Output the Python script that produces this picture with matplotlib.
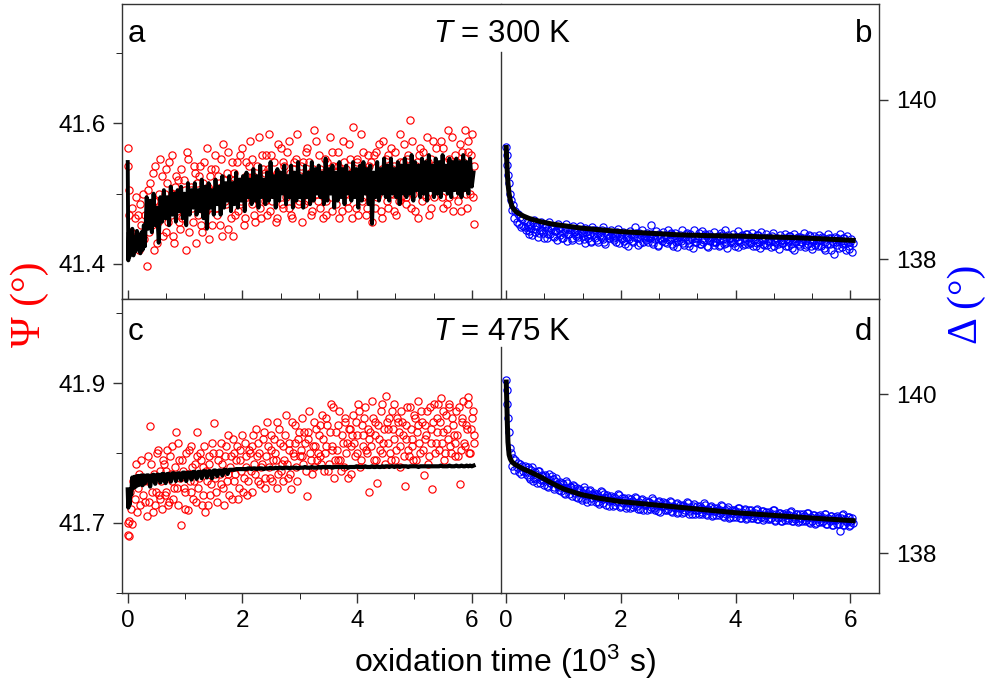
import matplotlib
matplotlib.use('Agg')
import matplotlib.pyplot as plt
from matplotlib.ticker import FixedLocator, MultipleLocator, FormatStrFormatter

plt.rcParams['font.family'] = ['Liberation Sans', 'DejaVu Sans']
plt.rcParams['mathtext.fontset'] = 'custom'
plt.rcParams['mathtext.rm'] = 'Liberation Sans'
plt.rcParams['mathtext.it'] = 'Liberation Sans:italic'

# ===== data (time in 10^3 s) =====

# measurement times, shared by psi and delta
t_meas = [
    0.00, 0.01, 0.02, 0.03, 0.04, 0.06, 0.08, 0.10, 0.12, 0.14, 0.16, 0.18, 0.20, 0.22, 0.24, 0.26, 0.28, 0.30,
    0.33, 0.36, 0.39, 0.42, 0.45, 0.48, 0.51, 0.54, 0.57, 0.60,
    0.63, 0.66, 0.69, 0.72, 0.75, 0.78, 0.81, 0.84, 0.87, 0.90,
    0.93, 0.96, 0.99, 1.02, 1.05, 1.08, 1.11, 1.14, 1.17, 1.20,
    1.23, 1.26, 1.29, 1.32, 1.35, 1.38, 1.41, 1.44, 1.47, 1.50,
    1.53, 1.56, 1.59, 1.62, 1.65, 1.68, 1.71, 1.74, 1.77, 1.80,
    1.83, 1.86, 1.89, 1.92, 1.95, 1.98, 2.01, 2.04, 2.07, 2.10,
    2.13, 2.16, 2.19, 2.22, 2.25, 2.28, 2.31, 2.34, 2.37, 2.40,
    2.43, 2.46, 2.49, 2.52, 2.55, 2.58, 2.61, 2.64, 2.67, 2.70,
    2.73, 2.76, 2.79, 2.82, 2.85, 2.88, 2.91, 2.94, 2.97, 3.00,
    3.03, 3.06, 3.09, 3.12, 3.15, 3.18, 3.21, 3.24, 3.27, 3.30,
    3.33, 3.36, 3.39, 3.42, 3.45, 3.48, 3.51, 3.54, 3.57, 3.60,
    3.63, 3.66, 3.69, 3.72, 3.75, 3.78, 3.81, 3.84, 3.87, 3.90,
    3.93, 3.96, 3.99, 4.02, 4.05, 4.08, 4.11, 4.14, 4.17, 4.20,
    4.23, 4.26, 4.29, 4.32, 4.35, 4.38, 4.41, 4.44, 4.47, 4.50,
    4.53, 4.56, 4.59, 4.62, 4.65, 4.68, 4.71, 4.74, 4.77, 4.80,
    4.83, 4.86, 4.89, 4.92, 4.95, 4.98, 5.01, 5.04, 5.07, 5.10,
    5.13, 5.16, 5.19, 5.22, 5.25, 5.28, 5.31, 5.34, 5.37, 5.40,
    5.43, 5.46, 5.49, 5.52, 5.55, 5.58, 5.61, 5.64, 5.67, 5.70,
    5.73, 5.76, 5.79, 5.82, 5.85, 5.88, 5.91, 5.94, 5.97, 6.00,
    6.03]

# interleaved second scan of the same runs
t_meas2 = [
    0.345, 0.375, 0.405, 0.435, 0.465, 0.495, 0.525, 0.555, 0.585, 0.615,
    0.645, 0.675, 0.705, 0.735, 0.765, 0.795, 0.825, 0.855, 0.885, 0.915,
    0.945, 0.975, 1.005, 1.035, 1.065, 1.095, 1.125, 1.155, 1.185, 1.215,
    1.245, 1.275, 1.305, 1.335, 1.365, 1.395, 1.425, 1.455, 1.485, 1.515,
    1.545, 1.575, 1.605, 1.635, 1.665, 1.695, 1.725, 1.755, 1.785, 1.815,
    1.845, 1.875, 1.905, 1.935, 1.965, 1.995, 2.025, 2.055, 2.085, 2.115,
    2.145, 2.175, 2.205, 2.235, 2.265, 2.295, 2.325, 2.355, 2.385, 2.415,
    2.445, 2.475, 2.505, 2.535, 2.565, 2.595, 2.625, 2.655, 2.685, 2.715,
    2.745, 2.775, 2.805, 2.835, 2.865, 2.895, 2.925, 2.955, 2.985, 3.015,
    3.045, 3.075, 3.105, 3.135, 3.165, 3.195, 3.225, 3.255, 3.285, 3.315,
    3.345, 3.375, 3.405, 3.435, 3.465, 3.495, 3.525, 3.555, 3.585, 3.615,
    3.645, 3.675, 3.705, 3.735, 3.765, 3.795, 3.825, 3.855, 3.885, 3.915,
    3.945, 3.975, 4.005, 4.035, 4.065, 4.095, 4.125, 4.155, 4.185, 4.215,
    4.245, 4.275, 4.305, 4.335, 4.365, 4.395, 4.425, 4.455, 4.485, 4.515,
    4.545, 4.575, 4.605, 4.635, 4.665, 4.695, 4.725, 4.755, 4.785, 4.815,
    4.845, 4.875, 4.905, 4.935, 4.965, 4.995, 5.025, 5.055, 5.085, 5.115,
    5.145, 5.175, 5.205, 5.235, 5.265, 5.295, 5.325, 5.355, 5.385, 5.415,
    5.445, 5.475, 5.505, 5.535, 5.565, 5.595, 5.625, 5.655, 5.685, 5.715,
    5.745, 5.775, 5.805, 5.835, 5.865, 5.895, 5.925, 5.955, 5.985, 6.015,
    6.045]

# T = 300 K, Psi (deg)
psi_300 = [
    41.565, 41.540, 41.505, 41.470, 41.425, 41.445, 41.480, 41.430, 41.465, 41.495, 41.440, 41.470, 41.420, 41.485, 41.455, 41.500, 41.435, 41.470,
    41.397, 41.470, 41.515, 41.455, 41.490, 41.540, 41.430, 41.500, 41.465, 41.525,
    41.480, 41.445, 41.515, 41.545, 41.470, 41.500, 41.430, 41.525, 41.490, 41.460,
    41.535, 41.475, 41.505, 41.420, 41.550, 41.485, 41.510, 41.460, 41.530, 41.495,
    41.470, 41.540, 41.445, 41.515, 41.490, 41.565, 41.480, 41.525, 41.455, 41.505,
    41.535, 41.470, 41.500, 41.550, 41.440, 41.520, 41.485, 41.560, 41.495, 41.465,
    41.440, 41.530, 41.505, 41.475, 41.555, 41.490, 41.520, 41.465, 41.545, 41.500,
    41.575, 41.485, 41.525, 41.460, 41.540, 41.510, 41.480, 41.555, 41.500, 41.530,
    41.470, 41.585, 41.515, 41.490, 41.545, 41.460, 41.530, 41.505, 41.565, 41.480,
    41.540, 41.495, 41.520, 41.575, 41.470, 41.535, 41.505, 41.550, 41.485, 41.525,
    41.460, 41.545, 41.510, 41.565, 41.490, 41.530, 41.475, 41.590, 41.515, 41.500,
    41.555, 41.480, 41.530, 41.505, 41.470, 41.545, 41.520, 41.495, 41.560, 41.510,
    41.485, 41.540, 41.465, 41.525, 41.575, 41.500, 41.535, 41.480, 41.550, 41.515,
    41.595, 41.505, 41.545, 41.470, 41.525, 41.490, 41.560, 41.515, 41.480, 41.540,
    41.510, 41.460, 41.555, 41.525, 41.495, 41.570, 41.475, 41.535, 41.505, 41.550,
    41.480, 41.530, 41.565, 41.500, 41.540, 41.470, 41.520, 41.585, 41.495, 41.545,
    41.515, 41.485, 41.555, 41.605, 41.530, 41.500, 41.475, 41.545, 41.520, 41.565,
    41.490, 41.540, 41.510, 41.580, 41.470, 41.550, 41.525, 41.495, 41.565, 41.530,
    41.505, 41.575, 41.480, 41.545, 41.520, 41.590, 41.495, 41.535, 41.475, 41.555,
    41.525, 41.490, 41.570, 41.510, 41.545, 41.590, 41.480, 41.560, 41.500, 41.585,
    41.457]

psi_300_2 = [
    41.505, 41.445, 41.475, 41.530, 41.420, 41.490, 41.460, 41.550, 41.480, 41.440,
    41.500, 41.535, 41.460, 41.485, 41.555, 41.440, 41.510, 41.475, 41.520, 41.450,
    41.465, 41.520, 41.490, 41.560, 41.445, 41.505, 41.480, 41.540, 41.430, 41.515,
    41.525, 41.455, 41.500, 41.545, 41.475, 41.510, 41.435, 41.535, 41.495, 41.555,
    41.480, 41.525, 41.455, 41.510, 41.570, 41.490, 41.530, 41.450, 41.515, 41.545,
    41.520, 41.470, 41.545, 41.500, 41.485, 41.565, 41.455, 41.525, 41.495, 41.540,
    41.495, 41.550, 41.470, 41.520, 41.505, 41.580, 41.465, 41.535, 41.490, 41.555,
    41.535, 41.475, 41.555, 41.500, 41.525, 41.465, 41.570, 41.510, 41.485, 41.545,
    41.505, 41.560, 41.480, 41.530, 41.465, 41.545, 41.515, 41.585, 41.490, 41.540,
    41.520, 41.485, 41.560, 41.500, 41.545, 41.470, 41.535, 41.510, 41.575, 41.490,
    41.535, 41.505, 41.465, 41.550, 41.490, 41.525, 41.580, 41.475, 41.540, 41.515,
    41.500, 41.560, 41.525, 41.475, 41.545, 41.510, 41.490, 41.570, 41.530, 41.465,
    41.525, 41.480, 41.550, 41.510, 41.585, 41.495, 41.535, 41.470, 41.555, 41.505,
    41.545, 41.515, 41.480, 41.560, 41.500, 41.530, 41.465, 41.575, 41.520, 41.490,
    41.555, 41.500, 41.535, 41.475, 41.560, 41.515, 41.490, 41.545, 41.525, 41.570,
    41.495, 41.550, 41.525, 41.480, 41.575, 41.510, 41.540, 41.465, 41.555, 41.505,
    41.560, 41.515, 41.495, 41.545, 41.530, 41.480, 41.575, 41.505, 41.540, 41.520,
    41.530, 41.495, 41.565, 41.510, 41.485, 41.550, 41.525, 41.580, 41.500, 41.540,
    41.545, 41.510, 41.475, 41.560, 41.530, 41.500, 41.575, 41.520, 41.555, 41.495,
    41.540]

psi_fit_300 = [
    41.545, 41.405, 41.445, 41.410, 41.440, 41.415, 41.450, 41.412, 41.438, 41.418, 41.447, 41.425, 41.440, 41.415, 41.445, 41.420, 41.455, 41.425,
    41.495, 41.450, 41.490, 41.445, 41.500, 41.455, 41.480, 41.430, 41.495, 41.460,
    41.505, 41.465, 41.495, 41.455, 41.510, 41.470, 41.500, 41.460, 41.505, 41.475,
    41.510, 41.465, 41.500, 41.455, 41.515, 41.470, 41.505, 41.480, 41.515, 41.470,
    41.505, 41.475, 41.520, 41.465, 41.510, 41.450, 41.515, 41.480, 41.505, 41.470,
    41.520, 41.485, 41.510, 41.470, 41.525, 41.480, 41.515, 41.490, 41.525, 41.475,
    41.515, 41.485, 41.530, 41.480, 41.520, 41.490, 41.525, 41.475, 41.530, 41.495,
    41.520, 41.485, 41.535, 41.490, 41.525, 41.480, 41.540, 41.495, 41.520, 41.485,
    41.530, 41.490, 41.545, 41.495, 41.525, 41.480, 41.535, 41.490, 41.530, 41.500,
    41.540, 41.485, 41.525, 41.495, 41.540, 41.480, 41.530, 41.490, 41.545, 41.495,
    41.525, 41.480, 41.540, 41.495, 41.530, 41.485, 41.545, 41.490, 41.535, 41.500,
    41.540, 41.495, 41.530, 41.485, 41.550, 41.490, 41.535, 41.500, 41.540, 41.480,
    41.530, 41.490, 41.545, 41.495, 41.535, 41.485, 41.540, 41.500, 41.530, 41.490,
    41.545, 41.495, 41.535, 41.480, 41.540, 41.490, 41.545, 41.500, 41.535, 41.485,
    41.540, 41.457, 41.530, 41.495, 41.545, 41.490, 41.535, 41.500, 41.550, 41.495,
    41.540, 41.490, 41.550, 41.500, 41.535, 41.495, 41.545, 41.485, 41.540, 41.500,
    41.550, 41.495, 41.540, 41.500, 41.555, 41.490, 41.545, 41.505, 41.540, 41.495,
    41.550, 41.500, 41.545, 41.490, 41.555, 41.505, 41.540, 41.495, 41.550, 41.500,
    41.545, 41.495, 41.555, 41.505, 41.540, 41.500, 41.550, 41.495, 41.545, 41.505,
    41.550, 41.500, 41.545, 41.495, 41.555, 41.505, 41.545, 41.500, 41.550, 41.510,
    41.530]

# T = 475 K, Psi (deg)
psi_475 = [
    41.683, 41.700, 41.682, 41.703, 41.745, 41.720, 41.698, 41.760, 41.735, 41.785, 41.715, 41.750, 41.770, 41.725, 41.790, 41.740, 41.760, 41.730,
    41.710, 41.795, 41.838, 41.745, 41.765, 41.725, 41.800, 41.740, 41.775, 41.720,
    41.785, 41.745, 41.805, 41.730, 41.770, 41.810, 41.750, 41.830, 41.725, 41.790,
    41.697, 41.775, 41.745, 41.800, 41.718, 41.760, 41.810, 41.735, 41.785, 41.830,
    41.750, 41.800, 41.725, 41.780, 41.715, 41.760, 41.795, 41.740, 41.815, 41.843,
    41.765, 41.730, 41.800, 41.755, 41.785, 41.725, 41.810, 41.770, 41.740, 41.795,
    41.820, 41.760, 41.790, 41.735, 41.805, 41.775, 41.745, 41.815, 41.780, 41.760,
    41.800, 41.745, 41.825, 41.770, 41.795, 41.815, 41.755, 41.785, 41.830, 41.765,
    41.845, 41.780, 41.805, 41.760, 41.820, 41.790, 41.750, 41.835, 41.775, 41.810,
    41.790, 41.855, 41.765, 41.815, 41.748, 41.800, 41.840, 41.780, 41.820, 41.795,
    41.850, 41.785, 41.815, 41.739, 41.830, 41.800, 41.770, 41.845, 41.810, 41.790,
    41.825, 41.795, 41.855, 41.775, 41.810, 41.840, 41.785, 41.870, 41.805, 41.765,
    41.830, 41.790, 41.860, 41.775, 41.815, 41.845, 41.800, 41.765, 41.835, 41.810,
    41.855, 41.795, 41.825, 41.870, 41.780, 41.840, 41.810, 41.865, 41.800, 41.745,
    41.830, 41.875, 41.790, 41.845, 41.757, 41.820, 41.860, 41.800, 41.835, 41.881,
    41.815, 41.850, 41.790, 41.835, 41.870, 41.805, 41.845, 41.780, 41.860, 41.825,
    41.753, 41.840, 41.805, 41.865, 41.820, 41.790, 41.850, 41.830, 41.875, 41.800,
    41.845, 41.768, 41.820, 41.860, 41.795, 41.835, 41.748, 41.870, 41.815, 41.850,
    41.805, 41.878, 41.830, 41.790, 41.855, 41.820, 41.865, 41.800, 41.840, 41.815,
    41.860, 41.795, 41.756, 41.845, 41.875, 41.810, 41.835, 41.880, 41.800, 41.850,
    41.825]

psi_475_2 = [
    41.760, 41.730, 41.785, 41.715, 41.770, 41.745, 41.805, 41.735, 41.760, 41.790,
    41.740, 41.775, 41.725, 41.795, 41.760, 41.735, 41.780, 41.750, 41.815, 41.765,
    41.790, 41.750, 41.720, 41.770, 41.805, 41.745, 41.780, 41.760, 41.730, 41.795,
    41.765, 41.790, 41.740, 41.810, 41.775, 41.725, 41.785, 41.755, 41.800, 41.770,
    41.745, 41.790, 41.770, 41.815, 41.750, 41.795, 41.760, 41.825, 41.780, 41.735,
    41.800, 41.770, 41.810, 41.750, 41.790, 41.825, 41.765, 41.795, 41.740, 41.805,
    41.775, 41.810, 41.785, 41.835, 41.760, 41.800, 41.780, 41.820, 41.750, 41.795,
    41.810, 41.765, 41.825, 41.790, 41.800, 41.845, 41.770, 41.815, 41.785, 41.760,
    41.825, 41.785, 41.805, 41.770, 41.845, 41.795, 41.815, 41.760, 41.830, 41.805,
    41.795, 41.830, 41.775, 41.820, 41.860, 41.790, 41.810, 41.780, 41.835, 41.800,
    41.840, 41.785, 41.820, 41.800, 41.850, 41.775, 41.830, 41.810, 41.865, 41.790,
    41.805, 41.840, 41.790, 41.825, 41.780, 41.850, 41.815, 41.835, 41.770, 41.825,
    41.815, 41.845, 41.800, 41.860, 41.790, 41.825, 41.850, 41.805, 41.835, 41.820,
    41.810, 41.850, 41.825, 41.790, 41.840, 41.805, 41.870, 41.815, 41.785, 41.845,
    41.835, 41.800, 41.860, 41.820, 41.790, 41.850, 41.830, 41.810, 41.845, 41.795,
    41.820, 41.865, 41.795, 41.835, 41.810, 41.855, 41.790, 41.840, 41.815, 41.860,
    41.805, 41.840, 41.825, 41.785, 41.865, 41.815, 41.845, 41.800, 41.830, 41.870,
    41.845, 41.815, 41.860, 41.800, 41.835, 41.870, 41.810, 41.850, 41.825, 41.795,
    41.825, 41.865, 41.805, 41.850, 41.815, 41.840, 41.870, 41.800, 41.835, 41.860,
    41.815]

psi_fit_475 = [
    41.748, 41.722, 41.742, 41.726, 41.745, 41.740, 41.765, 41.750, 41.766, 41.752, 41.767, 41.754, 41.767, 41.755, 41.768, 41.754, 41.768, 41.757,
    41.768, 41.768, 41.752, 41.768, 41.769, 41.756, 41.769, 41.769, 41.758, 41.770,
    41.770, 41.757, 41.770, 41.770, 41.759, 41.771, 41.771, 41.760, 41.771, 41.771,
    41.761, 41.772, 41.772, 41.760, 41.772, 41.772, 41.762, 41.773, 41.773, 41.763,
    41.773, 41.773, 41.764, 41.774, 41.774, 41.765, 41.774, 41.774, 41.764, 41.775,
    41.775, 41.767, 41.775, 41.775, 41.768, 41.776, 41.776, 41.770, 41.776, 41.776,
    41.776, 41.776, 41.777, 41.777, 41.777, 41.777, 41.777, 41.777, 41.777, 41.778,
    41.778, 41.777, 41.778, 41.778, 41.777, 41.778, 41.778, 41.778, 41.777, 41.778,
    41.778, 41.778, 41.779, 41.778, 41.778, 41.779, 41.778, 41.779, 41.779, 41.778,
    41.779, 41.779, 41.779, 41.778, 41.779, 41.779, 41.779, 41.779, 41.778, 41.779,
    41.779, 41.779, 41.780, 41.779, 41.779, 41.779, 41.780, 41.779, 41.779, 41.779,
    41.780, 41.779, 41.780, 41.780, 41.779, 41.780, 41.780, 41.780, 41.779, 41.780,
    41.780, 41.780, 41.780, 41.780, 41.780, 41.780, 41.780, 41.779, 41.780, 41.780,
    41.780, 41.780, 41.781, 41.780, 41.780, 41.780, 41.780, 41.781, 41.780, 41.780,
    41.780, 41.781, 41.780, 41.780, 41.781, 41.780, 41.780, 41.781, 41.780, 41.781,
    41.781, 41.780, 41.781, 41.781, 41.780, 41.781, 41.781, 41.780, 41.781, 41.781,
    41.781, 41.781, 41.780, 41.781, 41.781, 41.781, 41.781, 41.781, 41.780, 41.781,
    41.781, 41.781, 41.781, 41.781, 41.781, 41.781, 41.781, 41.781, 41.781, 41.781,
    41.781, 41.782, 41.781, 41.781, 41.781, 41.781, 41.782, 41.781, 41.781, 41.781,
    41.782, 41.781, 41.781, 41.782, 41.781, 41.781, 41.782, 41.781, 41.782, 41.781,
    41.782]

# T = 300 K, Delta (deg)
delta_300 = [
    139.41, 139.30, 139.18, 139.05, 138.95, 138.82, 138.74, 138.62, 138.68, 138.52, 138.60, 138.47, 138.56, 138.44, 138.53, 138.40, 138.50, 138.42,
    138.40, 138.47, 138.35, 138.44, 138.30, 138.49, 138.38, 138.42, 138.33, 138.46,
    138.36, 138.27, 138.43, 138.32, 138.47, 138.38, 138.29, 138.41, 138.35, 138.44,
    138.30, 138.40, 138.26, 138.36, 138.44, 138.32, 138.38, 138.24, 138.41, 138.34,
    138.37, 138.28, 138.42, 138.33, 138.25, 138.39, 138.30, 138.36, 138.22, 138.40,
    138.31, 138.37, 138.24, 138.34, 138.28, 138.40, 138.21, 138.35, 138.30, 138.26,
    138.36, 138.27, 138.32, 138.22, 138.38, 138.30, 138.25, 138.34, 138.19, 138.31,
    138.28, 138.35, 138.23, 138.31, 138.40, 138.26, 138.33, 138.20, 138.36, 138.29,
    138.24, 138.33, 138.28, 138.43, 138.21, 138.30, 138.35, 138.18, 138.32, 138.26,
    138.34, 138.22, 138.29, 138.36, 138.25, 138.31, 138.17, 138.33, 138.27, 138.23,
    138.30, 138.36, 138.20, 138.28, 138.33, 138.16, 138.31, 138.25, 138.37, 138.22,
    138.27, 138.33, 138.19, 138.35, 138.24, 138.30, 138.15, 138.32, 138.26, 138.21,
    138.34, 138.22, 138.29, 138.18, 138.33, 138.25, 138.36, 138.20, 138.30, 138.27,
    138.23, 138.31, 138.17, 138.28, 138.35, 138.21, 138.30, 138.26, 138.19, 138.32,
    138.27, 138.20, 138.33, 138.24, 138.16, 138.30, 138.22, 138.34, 138.25, 138.18,
    138.31, 138.23, 138.28, 138.15, 138.33, 138.21, 138.27, 138.19, 138.30, 138.24,
    138.20, 138.32, 138.25, 138.17, 138.29, 138.14, 138.31, 138.23, 138.27, 138.19,
    138.28, 138.21, 138.33, 138.18, 138.26, 138.30, 138.16, 138.24, 138.29, 138.20,
    138.23, 138.30, 138.17, 138.27, 138.12, 138.25, 138.31, 138.19, 138.26, 138.21,
    138.28, 138.18, 138.24, 138.32, 138.15, 138.26, 138.20, 138.29, 138.13, 138.22,
    138.09]

delta_300_2 = [
    138.36, 138.42, 138.31, 138.39, 138.45, 138.34, 138.41, 138.28, 138.37, 138.43,
    138.33, 138.40, 138.26, 138.37, 138.31, 138.42, 138.28, 138.35, 138.24, 138.39,
    138.35, 138.27, 138.33, 138.39, 138.23, 138.31, 138.36, 138.26, 138.34, 138.29,
    138.32, 138.24, 138.35, 138.29, 138.20, 138.34, 138.27, 138.31, 138.23, 138.36,
    138.27, 138.33, 138.22, 138.30, 138.36, 138.25, 138.19, 138.32, 138.26, 138.29,
    138.31, 138.24, 138.29, 138.34, 138.20, 138.27, 138.32, 138.23, 138.28, 138.17,
    138.25, 138.31, 138.21, 138.28, 138.33, 138.18, 138.26, 138.30, 138.22, 138.27,
    138.29, 138.21, 138.26, 138.32, 138.19, 138.25, 138.29, 138.16, 138.27, 138.23,
    138.26, 138.30, 138.20, 138.24, 138.33, 138.19, 138.27, 138.22, 138.15, 138.28,
    138.23, 138.28, 138.18, 138.32, 138.24, 138.20, 138.27, 138.14, 138.26, 138.21,
    138.29, 138.19, 138.25, 138.22, 138.31, 138.17, 138.26, 138.23, 138.28, 138.18,
    138.21, 138.27, 138.16, 138.24, 138.30, 138.19, 138.25, 138.14, 138.27, 138.22,
    138.26, 138.20, 138.28, 138.15, 138.24, 138.29, 138.18, 138.23, 138.31, 138.19,
    138.22, 138.28, 138.17, 138.25, 138.20, 138.30, 138.14, 138.24, 138.19, 138.27,
    138.18, 138.25, 138.21, 138.29, 138.16, 138.23, 138.27, 138.13, 138.24, 138.20,
    138.26, 138.17, 138.23, 138.29, 138.19, 138.25, 138.12, 138.22, 138.28, 138.16,
    138.22, 138.27, 138.15, 138.24, 138.19, 138.29, 138.13, 138.23, 138.18, 138.26,
    138.17, 138.24, 138.28, 138.14, 138.22, 138.19, 138.26, 138.11, 138.23, 138.07,
    138.21, 138.26, 138.14, 138.23, 138.19, 138.27, 138.12, 138.22, 138.17, 138.25,
    138.20]

# T = 475 K, Delta (deg)
delta_475 = [
    140.18, 140.05, 139.88, 139.70, 139.52, 139.32, 139.26, 139.10, 139.20, 139.05, 139.17, 139.08, 139.14, 139.02, 139.12, 139.00, 139.10, 139.04,
    139.10, 138.98, 139.06, 138.93, 139.08, 138.95, 139.02, 138.88, 139.04, 138.92,
    138.99, 138.86, 138.96, 138.83, 139.00, 138.88, 138.93, 138.81, 138.95, 138.85,
    138.90, 138.78, 138.87, 138.74, 138.91, 138.80, 138.84, 138.72, 138.86, 138.76,
    138.82, 138.70, 138.79, 138.67, 138.83, 138.73, 138.64, 138.78, 138.69, 138.75,
    138.76, 138.65, 138.72, 138.62, 138.78, 138.68, 138.74, 138.61, 138.71, 138.66,
    138.72, 138.60, 138.69, 138.64, 138.74, 138.58, 138.70, 138.63, 138.67, 138.59,
    138.69, 138.57, 138.66, 138.61, 138.71, 138.59, 138.65, 138.56, 138.68, 138.62,
    138.66, 138.55, 138.64, 138.58, 138.69, 138.57, 138.62, 138.53, 138.66, 138.60,
    138.64, 138.54, 138.62, 138.56, 138.66, 138.53, 138.60, 138.57, 138.63, 138.52,
    138.61, 138.51, 138.60, 138.55, 138.64, 138.53, 138.58, 138.50, 138.62, 138.54,
    138.59, 138.50, 138.57, 138.52, 138.63, 138.49, 138.56, 138.53, 138.60, 138.48,
    138.57, 138.48, 138.55, 138.51, 138.61, 138.47, 138.54, 138.50, 138.58, 138.46,
    138.55, 138.46, 138.53, 138.49, 138.57, 138.45, 138.52, 138.48, 138.56, 138.44,
    138.54, 138.45, 138.51, 138.47, 138.55, 138.43, 138.50, 138.46, 138.53, 138.44,
    138.52, 138.43, 138.50, 138.45, 138.54, 138.42, 138.49, 138.44, 138.51, 138.41,
    138.50, 138.42, 138.48, 138.44, 138.52, 138.40, 138.47, 138.43, 138.50, 138.41,
    138.49, 138.40, 138.47, 138.42, 138.51, 138.39, 138.46, 138.41, 138.48, 138.38,
    138.47, 138.39, 138.45, 138.41, 138.49, 138.37, 138.44, 138.40, 138.47, 138.36,
    138.46, 138.37, 138.44, 138.28, 138.48, 138.36, 138.43, 138.39, 138.46, 138.35,
    138.44]

delta_475_2 = [
    139.02, 139.09, 138.96, 139.05, 138.91, 139.00, 138.94, 139.03, 138.89, 138.97,
    138.92, 138.98, 138.85, 138.94, 138.89, 138.97, 138.83, 138.91, 138.87, 138.80,
    138.84, 138.89, 138.76, 138.82, 138.88, 138.75, 138.83, 138.79, 138.85, 138.71,
    138.77, 138.81, 138.70, 138.76, 138.80, 138.68, 138.74, 138.79, 138.66, 138.73,
    138.71, 138.75, 138.64, 138.70, 138.77, 138.63, 138.69, 138.73, 138.60, 138.68,
    138.67, 138.71, 138.61, 138.66, 138.73, 138.60, 138.65, 138.69, 138.57, 138.64,
    138.63, 138.68, 138.58, 138.64, 138.70, 138.56, 138.62, 138.67, 138.55, 138.61,
    138.61, 138.65, 138.56, 138.62, 138.67, 138.54, 138.60, 138.64, 138.52, 138.59,
    138.59, 138.63, 138.54, 138.60, 138.65, 138.52, 138.58, 138.62, 138.51, 138.57,
    138.57, 138.61, 138.52, 138.58, 138.63, 138.50, 138.56, 138.60, 138.49, 138.55,
    138.55, 138.59, 138.50, 138.56, 138.61, 138.48, 138.54, 138.58, 138.47, 138.53,
    138.53, 138.57, 138.48, 138.54, 138.59, 138.46, 138.52, 138.56, 138.45, 138.51,
    138.51, 138.55, 138.46, 138.52, 138.57, 138.44, 138.50, 138.54, 138.43, 138.49,
    138.50, 138.54, 138.45, 138.51, 138.56, 138.43, 138.49, 138.53, 138.42, 138.48,
    138.48, 138.52, 138.43, 138.49, 138.54, 138.41, 138.47, 138.51, 138.40, 138.46,
    138.47, 138.51, 138.42, 138.48, 138.53, 138.40, 138.46, 138.50, 138.39, 138.45,
    138.45, 138.49, 138.40, 138.46, 138.51, 138.38, 138.44, 138.48, 138.37, 138.43,
    138.44, 138.48, 138.39, 138.45, 138.50, 138.37, 138.43, 138.47, 138.36, 138.42,
    138.42, 138.47, 138.37, 138.44, 138.49, 138.35, 138.41, 138.46, 138.34, 138.40,
    138.38]

# smooth fits for Delta
t_fit = [0.00, 0.01, 0.02, 0.03, 0.05, 0.07, 0.10, 0.15, 0.20, 0.30, 0.40, 0.60, 0.80,
         1.00, 1.30, 1.60, 2.00, 2.50, 3.00, 3.50, 4.00, 4.50, 5.00, 5.50, 6.05]
delta_fit_300 = [139.40, 139.22, 139.07, 138.95, 138.82, 138.74, 138.66, 138.61, 138.58, 138.54, 138.51, 138.47, 138.44,
                 138.42, 138.39, 138.37, 138.345, 138.325, 138.305, 138.295, 138.29, 138.28, 138.27, 138.255, 138.235]
delta_fit_475 = [140.155, 139.90, 139.62, 139.40, 139.24, 139.19, 139.15, 139.12, 139.10, 139.06, 139.03, 138.96, 138.88,
                 138.81, 138.74, 138.695, 138.65, 138.615, 138.58, 138.545, 138.51, 138.485, 138.46, 138.435, 138.41]

# ===== figure =====

W, H = 994.0, 684.0
fig = plt.figure(figsize=(W / 100, H / 100), dpi=100)


def box(x0, y0, x1, y1):
    # pixel box (from top-left) -> figure fraction
    return [x0 / W, 1 - y1 / H, (x1 - x0) / W, (y1 - y0) / H]


ax_a = fig.add_axes(box(122, 4, 500.5, 299))
ax_b = fig.add_axes(box(500.5, 4, 879, 299))
ax_c = fig.add_axes(box(122, 299, 500.5, 593))
ax_d = fig.add_axes(box(500.5, 299, 879, 593))

frame_col = '#333333'
tick_fs = 17.5
circ = dict(marker='o', linestyle='none', markersize=5.2, markerfacecolor='none', markeredgewidth=0.85)

for t, y in ((t_meas, psi_300), (t_meas2, psi_300_2)):
    ax_a.plot(t, y, markeredgecolor='#ff0000', **circ)
ax_a.plot(t_meas, psi_fit_300, color='black', lw=2.8)

for t, y in ((t_meas, psi_475), (t_meas2, psi_475_2)):
    ax_c.plot(t, y, markeredgecolor='#ff0000', **circ)
ax_c.plot(t_meas, psi_fit_475, color='black', lw=3.0)

for t, y in ((t_meas, delta_300), (t_meas2, delta_300_2)):
    ax_b.plot(t, y, markeredgecolor='#0000ff', **circ)
ax_b.plot(t_fit, delta_fit_300, color='black', lw=3.6)

for t, y in ((t_meas, delta_475), (t_meas2, delta_475_2)):
    ax_d.plot(t, y, markeredgecolor='#0000ff', **circ)
ax_d.plot(t_fit, delta_fit_475, color='black', lw=3.6)

for ax in (ax_a, ax_b, ax_c, ax_d):
    ax.set_xlim(-0.1, 6.5)
    for sp in ax.spines.values():
        sp.set_color(frame_col)
        sp.set_linewidth(1.0)
    ax.xaxis.set_major_locator(MultipleLocator(2))
    ax.tick_params(colors=frame_col, labelcolor='black', width=1.0)

# top row: inward ticks on the shared boundary, no labels
for ax in (ax_a, ax_b):
    ax.xaxis.set_minor_locator(MultipleLocator(2 / 3))
    ax.tick_params(axis='x', which='both', direction='in', labelbottom=False)
    ax.tick_params(axis='x', which='major', length=6.5)
    ax.tick_params(axis='x', which='minor', length=4.5)

# bottom row: outward ticks with labels
for ax in (ax_c, ax_d):
    ax.xaxis.set_minor_locator(MultipleLocator(1))
    ax.tick_params(axis='x', which='both', direction='out', labelsize=tick_fs, pad=5)
    ax.tick_params(axis='x', which='major', length=7)
    ax.tick_params(axis='x', which='minor', length=4)

# left: Psi
ax_a.set_ylim(41.35, 41.77)
ax_a.yaxis.set_major_locator(FixedLocator([41.4, 41.6]))
ax_a.yaxis.set_minor_locator(FixedLocator([41.5, 41.7]))
ax_c.set_ylim(41.6, 42.02)
ax_c.yaxis.set_major_locator(FixedLocator([41.7, 41.9]))
ax_c.yaxis.set_minor_locator(FixedLocator([41.6, 41.8, 42.0]))
for ax in (ax_a, ax_c):
    ax.yaxis.set_major_formatter(FormatStrFormatter('%.1f'))
    ax.spines['right'].set_visible(False)
    ax.tick_params(axis='y', which='both', direction='out', right=False, labelsize=tick_fs, pad=5)
    ax.tick_params(axis='y', which='major', length=6.5)
    ax.tick_params(axis='y', which='minor', length=4.3)

# right: Delta
for ax in (ax_b, ax_d):
    ax.set_ylim(137.5, 141.2)
    ax.yaxis.set_major_locator(MultipleLocator(2))
    ax.yaxis.tick_right()
    ax.tick_params(axis='y', which='major', direction='out', length=6.5, labelsize=tick_fs, pad=5.5)
    ax.tick_params(axis='y', which='minor', right=False)
    # divider line stops below the temperature label
    ax.spines['left'].set_bounds(137.5, 140.6)

# panel letters and temperatures
letter_kw = dict(fontsize=22.5, va='baseline')
ax_a.text(0.016, 0.871, 'a', transform=ax_a.transAxes, ha='left', **letter_kw)
ax_b.text(0.982, 0.871, 'b', transform=ax_b.transAxes, ha='right', **letter_kw)
ax_c.text(0.016, 0.8605, 'c', transform=ax_c.transAxes, ha='left', **letter_kw)
ax_d.text(0.982, 0.8605, 'd', transform=ax_d.transAxes, ha='right', **letter_kw)
fig.text(502.5 / W, 1 - 42 / H, '$T$ = 300 K', ha='center', **letter_kw)
fig.text(502.5 / W, 1 - 340 / H, '$T$ = 475 K', ha='center', **letter_kw)

# axis labels
fig.text(504.5 / W, 1 - 672 / H, 'oxidation time (10$^3$ s)', ha='center', va='baseline', fontsize=23)
fig.text(30 / W, 1 - 304 / H, 'Ψ (°)', rotation=90, ha='center', va='center',
         color='#ff0000', fontsize=30, family=['Liberation Serif', 'DejaVu Serif'])
fig.text(967 / W, 1 - 304 / H, 'Δ (°)', rotation=90, ha='center', va='center',
         color='#0000ff', fontsize=30, family=['Liberation Serif', 'DejaVu Serif'])

fig.savefig('out.png', dpi=100)
